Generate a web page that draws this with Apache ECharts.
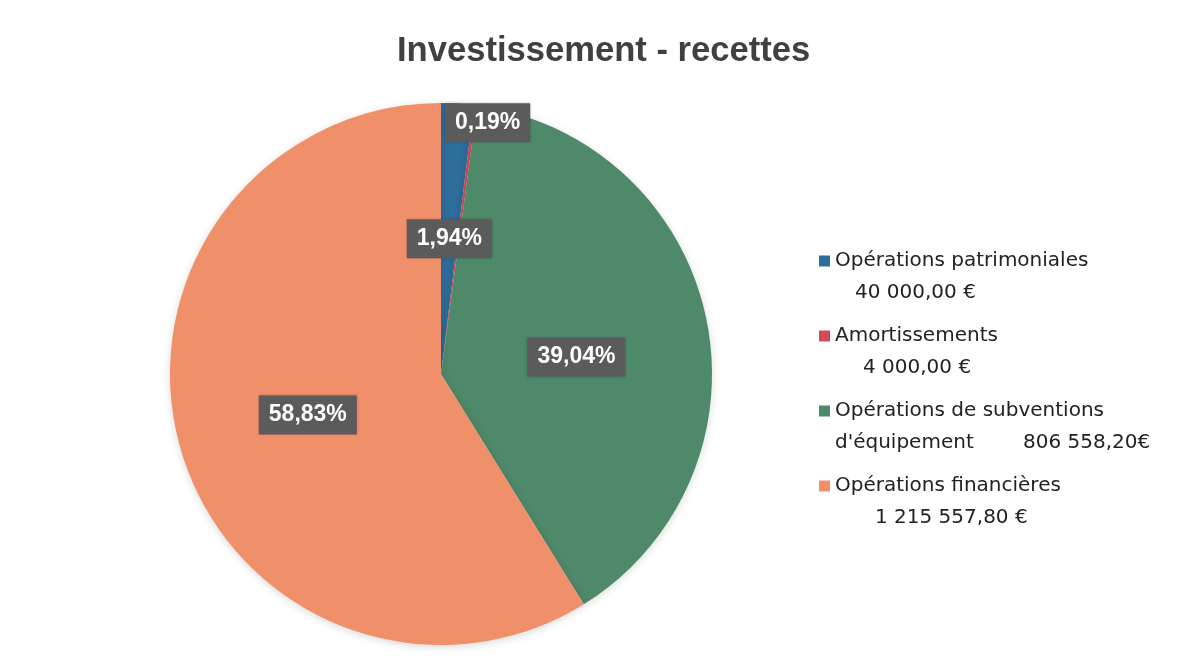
<!DOCTYPE html>
<html>
<head>
<meta charset="utf-8">
<title>Investissement - recettes</title>
<script src="https://cdn.jsdelivr.net/npm/echarts@6/dist/echarts.min.js"></script>
<style>
  html, body { margin: 0; padding: 0; background: #fff; }
  #chart { width: 1183px; height: 668px; }
</style>
</head>
<body>
<div id="chart"></div>
<script>
// slices, clockwise from 12 o'clock
const categories = [
  "Opérations patrimoniales",
  "Amortissements",
  "Opérations de subventions d'équipement",
  "Opérations financières"
];
const amounts = [40000, 4000, 806558.2, 1215557.8];
const amountLabels = ["40 000,00 €", "4 000,00 €", "806 558,20€", "1 215 557,80 €"];
// how the legend splits each name over its lines
const legendLines = [
  ["Opérations patrimoniales"],
  ["Amortissements"],
  ["Opérations de subventions", "d'équipement"],
  ["Opérations financières"]
];
const colors = ["#2e6e9c", "#d24b57", "#4e896a", "#f0906a"];

// layout of the amount line under each legend name (px of indent)
const amountIndent = [20, 28, 0, 40];

const chart = echarts.init(document.getElementById("chart"));

const legendFont = { fontFamily: "DejaVu Sans", fontSize: 20, color: "#222", lineHeight: 32 };
const rich = { n: legendFont, e: Object.assign({}, legendFont, { width: 188 }) };
amountIndent.forEach((w, i) => { rich["i" + i] = Object.assign({}, legendFont, { width: w }); });

const option = {
  backgroundColor: "#fff",
  animation: false,
  title: {
    text: "Investissement - recettes",
    left: 392,
    top: 29,
    textStyle: {
      fontFamily: "Liberation Sans",
      fontSize: 34.6,
      fontWeight: "bold",
      color: "#404040"
    }
  },
  legend: {
    orient: "vertical",
    left: 819,
    top: 213,
    padding: 0,
    itemGap: -21,
    itemWidth: 11,
    itemHeight: 11,
    icon: "rect",
    selectedMode: false,
    data: categories,
    formatter: (name) => {
      const i = categories.indexOf(name);
      const lines = legendLines[i];
      if (lines.length > 1) {
        return "\n{n|" + lines[0] + "}\n{e|" + lines[1] + "}{n|" + amountLabels[i] + "}";
      }
      return "\n{n|" + lines[0] + "}\n{i" + i + "|}{n|" + amountLabels[i] + "}";
    },
    textStyle: Object.assign({}, legendFont, { rich: rich })
  },
  series: [
    {
      type: "pie",
      center: [441, 374],
      radius: 271,
      startAngle: 90,
      clockwise: true,
      color: colors,
      emphasis: { disabled: true },
      itemStyle: {
        shadowBlur: 8,
        shadowColor: "rgba(0,0,0,0.15)",
        shadowOffsetY: 2
      },
      label: {
        show: true,
        position: "inside",
        formatter: (p) => p.percent.toFixed(2).replace(".", ",") + "%",
        fontFamily: "Liberation Sans",
        fontSize: 23,
        fontWeight: "bold",
        color: "#fff",
        backgroundColor: "#5b5b5b",
        padding: [8, 10],
        shadowBlur: 3,
        shadowColor: "rgba(0,0,0,0.3)"
      },
      labelLine: { show: false },
      // the tiny slice's label sits near the rim, like the original
      labelLayout: (p) => (p.dataIndex === 1 ? { dx: 29, dy: -114 } : p.dataIndex === 2 ? { dy: 12 } : { dy: 3 }),
      data: categories.map((name, i) => ({ name: name, value: amounts[i] }))
    }
  ]
};

chart.setOption(option);
</script>
</body>
</html>
